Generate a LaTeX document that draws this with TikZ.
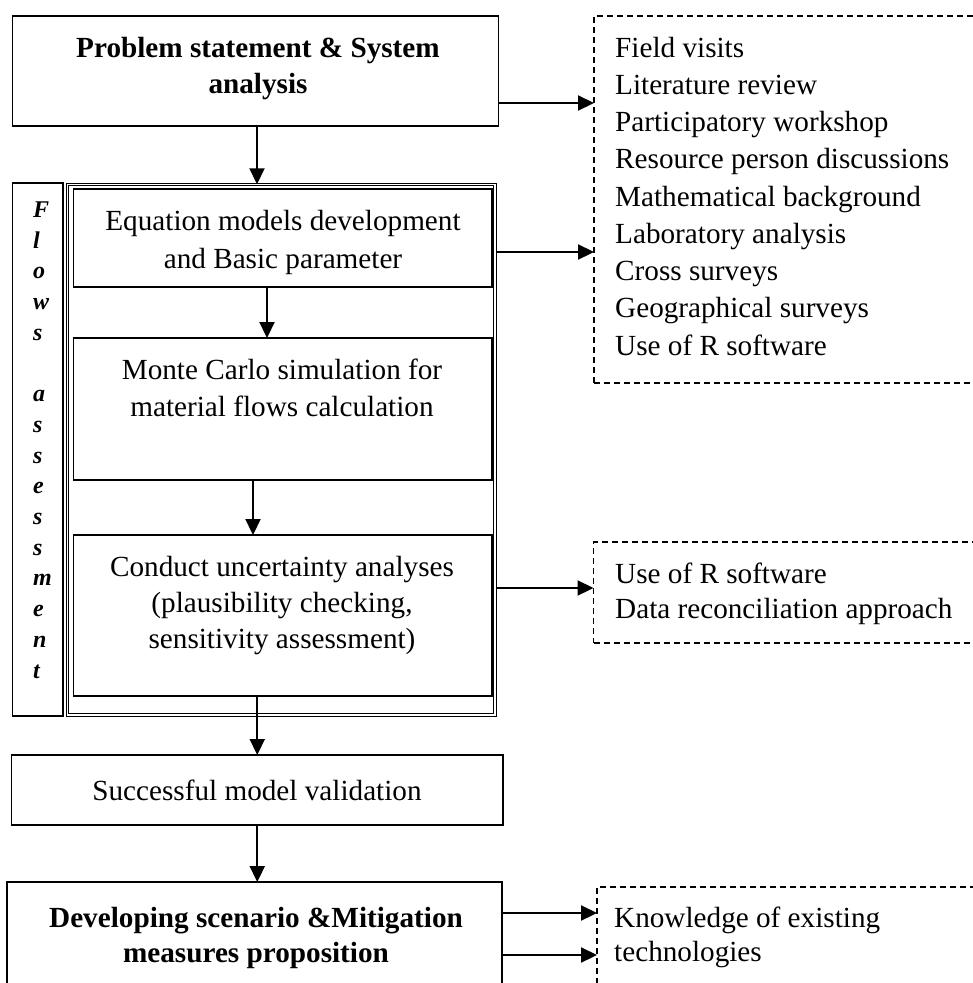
\documentclass[tikz,border=0pt]{standalone}
\usepackage{fontspec}
\setmainfont{Liberation Serif}
\usetikzlibrary{arrows.meta}
\begin{document}
\begin{tikzpicture}[x=1pt,y=-1pt,
  box/.style={draw,line width=1.5pt,inner sep=0pt,outer sep=0pt},
  dbox/.style={draw,line width=1.5pt,dash pattern=on 6pt off 4pt,inner sep=0pt,outer sep=0pt},
  arr/.style={line width=2.2pt,-{Triangle[length=16pt 0 0,width=15pt 0 0]}},
  txt/.style={inner sep=0pt,font=\fontsize{29.2}{35}\selectfont},
  btxt/.style={inner sep=0pt,font=\fontsize{29.2}{35}\selectfont\bfseries},
  vlet/.style={inner sep=0pt,anchor=base west,font=\fontsize{24}{30}\selectfont\bfseries\itshape}]
\useasboundingbox (0,0) rectangle (973,983);
\clip (0,0) rectangle (973,983);
\fill[white] (0,0) rectangle (973,983);

% main boxes
\node[box,minimum width=486pt,minimum height=110pt] (top) at (255.5,71) {};
\node[box,line width=1.2pt,minimum width=50.5pt,minimum height=533pt] (col) at (37.75,449.5) {};
\node[draw,line width=1pt,double,double distance=1.5pt,inner sep=0pt,outer sep=0pt,
      minimum width=427.5pt,minimum height=530.5pt] (cont) at (281,449.5) {};
\node[box,minimum width=418.5pt,minimum height=98pt] (eq) at (282.75,238) {};
\node[box,minimum width=418.5pt,minimum height=142pt] (mc) at (282.75,409) {};
\node[box,minimum width=418.5pt,minimum height=161pt] (cond) at (282.75,615.5) {};
\node[box,minimum width=491.5pt,minimum height=70pt] (succ) at (257.25,790) {};
\node[box,minimum width=495pt,minimum height=118pt] (dev) at (254.5,941) {};

% dashed boxes
\node[dbox,minimum width=406pt,minimum height=367pt] (d1) at (797,199.5) {};
\node[dbox,minimum width=406.5pt,minimum height=101pt] (d2) at (796.75,592.5) {};
\node[dbox,minimum width=403pt,minimum height=123pt] (d3) at (798.5,948.5) {};

% texts in boxes
\node[btxt,anchor=base] (t1) at (258,57) {Problem statement \& System};
\node[btxt,anchor=base] (t2) at (258,93) {analysis};
\node[txt,anchor=base] (e1) at (283,230) {Equation models development};
\node[txt,anchor=base] (e2) at (283,268) {and Basic parameter};
\node[txt,anchor=base] (m1) at (282,379) {Monte Carlo simulation for};
\node[txt,anchor=base] (m2) at (282,416) {material flows calculation};
\node[txt,anchor=base] (c1) at (282,576) {Conduct uncertainty analyses};
\node[txt,anchor=base] (c2) at (282,612) {(plausibility checking,};
\node[txt,anchor=base] (c3) at (282,648) {sensitivity assessment)};
\node[txt,anchor=base] (s1) at (257,800) {Successful model validation};
\node[btxt,anchor=base] (v1) at (256,927) {Developing scenario \&Mitigation};
\node[btxt,anchor=base] (v2) at (256,962) {measures proposition};

% vertical letters
\foreach \ch/\i in {F/0,l/1,o/2,w/3,s/4,a/6,s/7,s/8,e/9,s/10,s/11,m/12,e/13,n/14,t/15}
  \node[vlet] (L\i) at (33,{217.5+30.7*\i}) {\ch};

% dashed box texts
\foreach \t [count=\i from 0] in {Field visits,Literature review,Participatory workshop,
  Resource person discussions,Mathematical background,Laboratory analysis,
  Cross surveys,Geographical surveys,Use of R software}
  \node[txt,anchor=base west] (a\i) at (615,{57+37.25*\i}) {\t};
\node[txt,anchor=base west] (b1) at (615,583) {Use of R software};
\node[txt,anchor=base west] (b2) at (615,618) {Data reconciliation approach};
\node[txt,anchor=base west] (k1) at (614,927) {Knowledge of existing};
\node[txt,anchor=base west] (k2) at (614,961) {technologies};

% connectors
\draw[arr] (top.south -| 257,0) -- (cont.north -| 257,0);
\draw[arr] (eq.south -| 267,0) -- (mc.north -| 267,0);
\draw[arr] (mc.south -| 253,0) -- (cond.north -| 253,0);
\draw[arr] (succ.north |- cond.south) -- (succ.north);
\draw[arr] (succ.south) -- (succ.south |- dev.north);
\draw[arr] (top.east |- 0,103) -- (d1.west |- 0,103);
\draw[arr,shorten <=2.5pt] (cont.east |- 0,252) -- (d1.west |- 0,252);
\draw[arr,shorten <=2.5pt] (cont.east |- 0,588) -- (d2.west |- 0,588);
\draw[arr] (dev.east |- 0,913) -- (d3.west |- 0,913);
\draw[arr] (dev.east |- 0,955) -- (d3.west |- 0,955);
\end{tikzpicture}
\end{document}
